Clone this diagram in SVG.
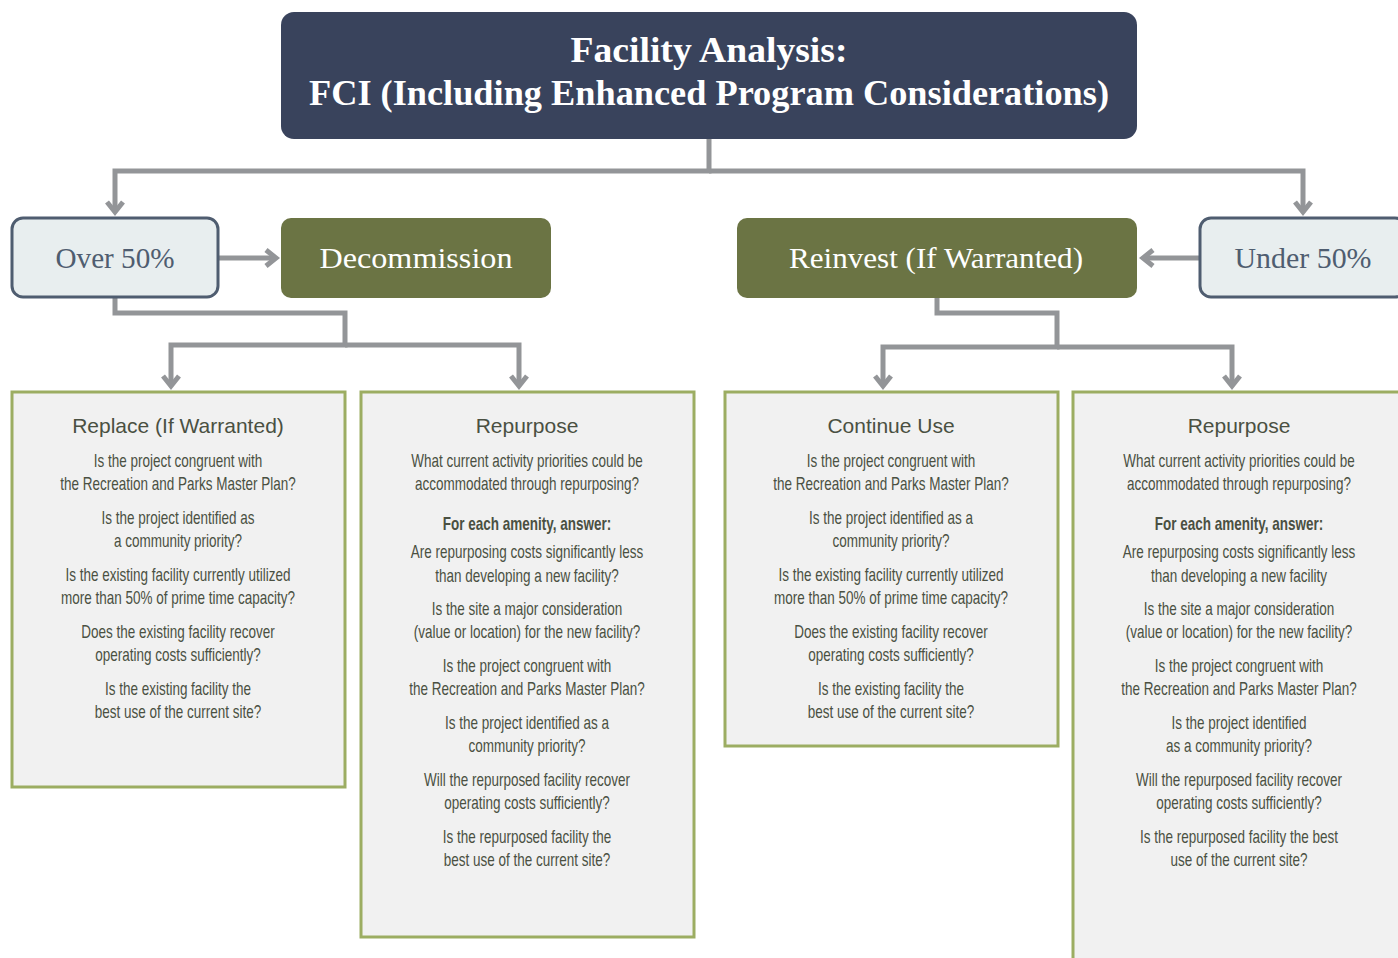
<svg xmlns="http://www.w3.org/2000/svg" width="1398" height="958" viewBox="0 0 1398 958">
<defs>
<style>
.title{font-family:"Liberation Serif",serif;font-weight:bold;font-size:35px;fill:#ffffff;text-anchor:middle}
.pct{font-family:"Liberation Serif",serif;font-size:29px;fill:#4f5d70;text-anchor:middle}
.act{font-family:"Liberation Serif",serif;font-size:30px;fill:#ffffff;text-anchor:middle}
.pctbox{fill:#e8eeef;stroke:#4f5d70;stroke-width:3}
.actbox{fill:#6b7444}
.qbox{fill:#f1f1f1;stroke:#9cad62;stroke-width:3}
.head{font-family:"Liberation Sans",Arial,sans-serif;font-size:21px;fill:#4a5042;text-anchor:middle}
.q{font-family:"Liberation Sans",Arial,sans-serif;font-size:18px;fill:#4a5042;text-anchor:middle}
.qb{font-weight:bold}
.conn{fill:none;stroke:#939598;stroke-width:5}
</style>
<marker id="arr" markerUnits="userSpaceOnUse" viewBox="-16 -12 20 24" refX="0" refY="0" markerWidth="20" markerHeight="24" orient="auto" overflow="visible">
<path d="M-10,-8 L0,0 L-10,8" fill="none" stroke="#939598" stroke-width="5"/>
</marker>
</defs>
<rect width="1398" height="958" fill="#ffffff"/>

<g id="connectors">
<path class="conn" d="M709,139 V171 H115 V212" marker-end="url(#arr)"/>
<path class="conn" d="M709,171 H1303 V212" marker-end="url(#arr)"/>
<path class="conn" d="M218,258 H276" marker-end="url(#arr)"/>
<path class="conn" d="M1200,258 H1143" marker-end="url(#arr)"/>
<path class="conn" d="M115,297 V313 H345 V345 H171 V386" marker-end="url(#arr)"/>
<path class="conn" d="M345,345 H519 V386" marker-end="url(#arr)"/>
<path class="conn" d="M937,297 V313 H1057 V347 H883 V386" marker-end="url(#arr)"/>
<path class="conn" d="M1057,347 H1232 V386" marker-end="url(#arr)"/>
</g>

<g id="node-title">
<rect x="281" y="12" width="856" height="127" rx="13" fill="#39435c"/>
<text class="title" x="709" y="62" textLength="277" lengthAdjust="spacingAndGlyphs">Facility Analysis:</text>
<text class="title" x="709" y="105" textLength="800" lengthAdjust="spacingAndGlyphs">FCI (Including Enhanced Program Considerations)</text>
</g>

<g id="node-over">
<rect class="pctbox" x="12" y="218" width="206" height="79" rx="11"/>
<text class="pct" x="115" y="268" textLength="119" lengthAdjust="spacingAndGlyphs">Over 50%</text>
</g>

<g id="node-decommission">
<rect class="actbox" x="281" y="218" width="270" height="80" rx="10"/>
<text class="act" x="416" y="268" textLength="193" lengthAdjust="spacingAndGlyphs">Decommission</text>
</g>

<g id="node-reinvest">
<rect class="actbox" x="737" y="218" width="400" height="80" rx="10"/>
<text class="act" x="936" y="268" textLength="294" lengthAdjust="spacingAndGlyphs">Reinvest (If Warranted)</text>
</g>

<g id="node-under">
<rect class="pctbox" x="1200" y="218" width="206" height="79" rx="11"/>
<text class="pct" x="1303" y="268" textLength="137" lengthAdjust="spacingAndGlyphs">Under 50%</text>
</g>

<g id="node-replace">
<rect class="qbox" x="12" y="392" width="333" height="395"/>
<text class="head" x="178" y="433">Replace (If Warranted)</text>
<g transform="translate(178,0) scale(0.75,1)">
<text class="q" x="0" y="467">Is the project congruent with</text>
<text class="q" x="0" y="490.5">the Recreation and Parks Master Plan?</text>
<text class="q" x="0" y="524">Is the project identified as</text>
<text class="q" x="0" y="547.5">a community priority?</text>
<text class="q" x="0" y="581">Is the existing facility currently utilized</text>
<text class="q" x="0" y="604.5">more than 50% of prime time capacity?</text>
<text class="q" x="0" y="638">Does the existing facility recover</text>
<text class="q" x="0" y="661.5">operating costs sufficiently?</text>
<text class="q" x="0" y="695">Is the existing facility the</text>
<text class="q" x="0" y="718.5">best use of the current site?</text>
</g>
</g>

<g id="node-repurpose-1">
<rect class="qbox" x="361" y="392" width="333" height="545"/>
<text class="head" x="527" y="433">Repurpose</text>
<g transform="translate(527,0) scale(0.75,1)">
<text class="q" x="0" y="467">What current activity priorities could be</text>
<text class="q" x="0" y="490.5">accommodated through repurposing?</text>
<text class="q qb" x="0" y="530">For each amenity, answer:</text>
<text class="q" x="0" y="558.5">Are repurposing costs significantly less</text>
<text class="q" x="0" y="582">than developing a new facility?</text>
<text class="q" x="0" y="615">Is the site a major consideration</text>
<text class="q" x="0" y="638.5">(value or location) for the new facility?</text>
<text class="q" x="0" y="672">Is the project congruent with</text>
<text class="q" x="0" y="695.5">the Recreation and Parks Master Plan?</text>
<text class="q" x="0" y="729">Is the project identified as a</text>
<text class="q" x="0" y="752.5">community priority?</text>
<text class="q" x="0" y="786">Will the repurposed facility recover</text>
<text class="q" x="0" y="809.5">operating costs sufficiently?</text>
<text class="q" x="0" y="843">Is the repurposed facility the</text>
<text class="q" x="0" y="866.5">best use of the current site?</text>
</g>
</g>

<g id="node-continue">
<rect class="qbox" x="725" y="392" width="333" height="354"/>
<text class="head" x="891" y="433">Continue Use</text>
<g transform="translate(891,0) scale(0.75,1)">
<text class="q" x="0" y="467">Is the project congruent with</text>
<text class="q" x="0" y="490.5">the Recreation and Parks Master Plan?</text>
<text class="q" x="0" y="524">Is the project identified as a</text>
<text class="q" x="0" y="547.5">community priority?</text>
<text class="q" x="0" y="581">Is the existing facility currently utilized</text>
<text class="q" x="0" y="604.5">more than 50% of prime time capacity?</text>
<text class="q" x="0" y="638">Does the existing facility recover</text>
<text class="q" x="0" y="661.5">operating costs sufficiently?</text>
<text class="q" x="0" y="695">Is the existing facility the</text>
<text class="q" x="0" y="718.5">best use of the current site?</text>
</g>
</g>

<g id="node-repurpose-2">
<rect class="qbox" x="1073" y="392" width="333" height="580"/>
<text class="head" x="1239" y="433">Repurpose</text>
<g transform="translate(1239,0) scale(0.75,1)">
<text class="q" x="0" y="467">What current activity priorities could be</text>
<text class="q" x="0" y="490.5">accommodated through repurposing?</text>
<text class="q qb" x="0" y="530">For each amenity, answer:</text>
<text class="q" x="0" y="558.5">Are repurposing costs significantly less</text>
<text class="q" x="0" y="582">than developing a new facility</text>
<text class="q" x="0" y="615">Is the site a major consideration</text>
<text class="q" x="0" y="638.5">(value or location) for the new facility?</text>
<text class="q" x="0" y="672">Is the project congruent with</text>
<text class="q" x="0" y="695.5">the Recreation and Parks Master Plan?</text>
<text class="q" x="0" y="729">Is the project identified</text>
<text class="q" x="0" y="752.5">as a community priority?</text>
<text class="q" x="0" y="786">Will the repurposed facility recover</text>
<text class="q" x="0" y="809.5">operating costs sufficiently?</text>
<text class="q" x="0" y="843">Is the repurposed facility the best</text>
<text class="q" x="0" y="866.5">use of the current site?</text>
</g>
</g>
</svg>
